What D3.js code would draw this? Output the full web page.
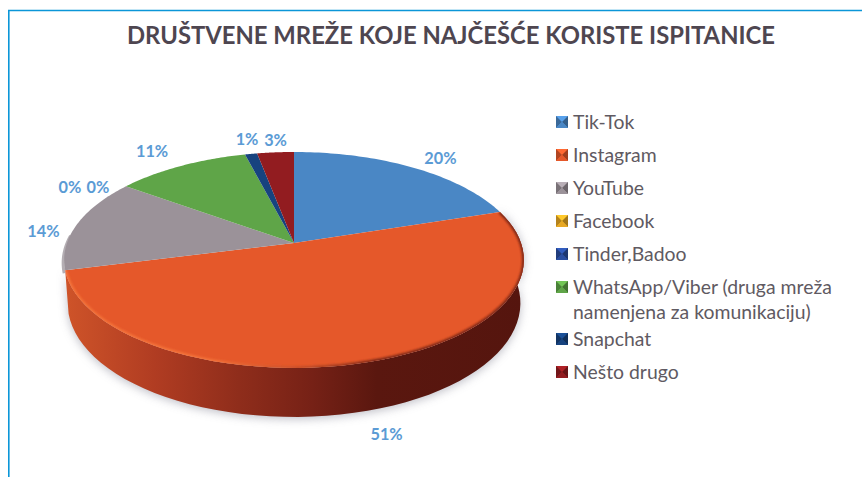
<!DOCTYPE html>
<html>
<head>
<meta charset="utf-8">
<script src="https://cdn.jsdelivr.net/npm/d3@7"></script>
<style>
html,body{margin:0;padding:0;background:#fff;}
svg{display:block;}
text{font-family:Lato,"Open Sans",sans-serif;}
</style>
</head>
<body>
<svg id="c" width="862" height="477"></svg>
<script>
const chartTitle = "DRUŠTVENE MREŽE KOJE NAJČEŠĆE KORISTE ISPITANICE";
const categories = ["Tik-Tok","Instagram","YouTube","Facebook","Tinder,Badoo","WhatsApp/Viber (druga mreža namenjena za komunikaciju)","Snapchat","Nešto drugo"];
const shares = [20,51,14,0,0,11,1,3];
const colors = ["#4a87c5","#e5582a","#9b9299","#e8a824","#2a4ea0","#5fa548","#17437f","#921c20"];

// layout only
const labelOffsets = [[28,-9],[18,72],[-34,8],[-56,1],[-28,1],[-29,-14],[-4,-14],[0,-12]];
const legendLines = [["Tik-Tok"],["Instagram"],["YouTube"],["Facebook"],["Tinder,Badoo"],["WhatsApp/Viber (druga mreža","namenjena za komunikaciju)"],["Snapchat"],["Nešto drugo"]];

const svg = d3.select("#c");
const defs = svg.append("defs");

// perspective projection of the unit pie disc
const cx = 294, apexY = 243, a = 227, b = 105.3, p = 0.157;
const proj = t => {
  const u = Math.sin(t), v = -Math.cos(t), k = 1 - p*v;
  return [cx + a*u/k, apexY + b*v/k];
};
const projBottom = t => {
  const u = Math.sin(t), v = -Math.cos(t), k = 1 - p*v;
  return [cx + 0.985*a*u/k, apexY + b*v/k + 42 + 7*v];
};
const sample = (t0,t1,f) => d3.range(0,61).map(i => f(t0 + (t1-t0)*i/60));
const line = d3.line();

const arcs = d3.pie().sort(null).value(d => d)(shares);
const orange = arcs[1], gray = arcs[2];

defs.append("filter").attr("id","blur6").attr("x","-20%").attr("y","-20%").attr("width","140%").attr("height","140%")
  .append("feGaussianBlur").attr("stdDeviation",5);
defs.append("filter").attr("id","blur1").attr("filterUnits","userSpaceOnUse").attr("x",0).attr("y",0).attr("width",862).attr("height",477)
  .append("feGaussianBlur").attr("stdDeviation",1.1);

const wallGrad = defs.append("linearGradient").attr("id","wall").attr("gradientUnits","userSpaceOnUse")
  .attr("x1",64).attr("x2",524).attr("y1",0).attr("y2",0);
[[0,"#cf5429"],[0.2,"#b03c22"],[0.38,"#8f2d1b"],[0.54,"#762116"],[0.68,"#5a170f"],[1,"#55150e"]]
  .forEach(s => wallGrad.append("stop").attr("offset",s[0]).attr("stop-color",s[1]));

const rimGrad = defs.append("linearGradient").attr("id","rim").attr("gradientUnits","userSpaceOnUse")
  .attr("x1",64).attr("x2",524).attr("y1",0).attr("y2",0);
[[0,"#f4733a"],[0.32,"#f4733a"],[0.5,"#c9502a"],[0.68,"#7a2616"],[1,"#7a2616"]]
  .forEach(s => rimGrad.append("stop").attr("offset",s[0]).attr("stop-color",s[1]));

// frame
svg.append("path").attr("d","M8.8,477V10.5H862").attr("fill","none").attr("stroke","#0b96d8").attr("stroke-width",1.6);

// title
svg.append("text").attr("x",451).attr("y",44).attr("text-anchor","middle")
  .attr("font-size",25.5).attr("font-weight",700).attr("fill","#4e4650")
  .attr("textLength",648).attr("lengthAdjust","spacingAndGlyphs").text(chartTitle);

// drop shadow
const wallTop = sample(orange.startAngle, orange.endAngle, proj);
const wallBot = sample(orange.startAngle, orange.endAngle, projBottom);
svg.append("path").attr("d", line(wallBot.map(d=>[d[0],d[1]+2]).concat(wallTop.slice().reverse())) + "Z")
  .attr("fill","#a9a9b4").attr("opacity",.75).attr("filter","url(#blur6)");

// side wall
svg.append("path").attr("d", line(wallTop.concat(wallBot.slice().reverse())) + "Z").attr("fill","url(#wall)");

// gray outer rim
svg.append("path").attr("d", line(sample(gray.startAngle, gray.startAngle+0.35, t => { const q=proj(t); return [q[0]-1,q[1]+3]; })))
  .attr("fill","none").attr("stroke","#b4aeb3").attr("stroke-width",3);

// top faces
svg.append("g").selectAll("path").data(arcs).join("path")
  .attr("d", d => d.endAngle > d.startAngle
      ? line([[cx,apexY]].concat(sample(d.startAngle,d.endAngle,proj))) + "Z" : null)
  .attr("fill", (d,i) => colors[i]);

// rim between top and wall
const clip = defs.append("clipPath").attr("id","topclip");
clip.append("path").attr("d", line([[cx,apexY]].concat(sample(orange.startAngle,orange.endAngle,proj))) + "Z");
svg.append("g").attr("clip-path","url(#topclip)").append("path")
  .attr("d", line(sample(orange.startAngle, orange.endAngle, proj)))
  .attr("fill","none").attr("stroke","url(#rim)").attr("stroke-width",3.5).attr("filter","url(#blur1)");

// data labels
svg.append("g").selectAll("text").data(arcs).join("text")
  .attr("x",(d,i)=>proj((d.startAngle+d.endAngle)/2)[0]+labelOffsets[i][0])
  .attr("y",(d,i)=>proj((d.startAngle+d.endAngle)/2)[1]+labelOffsets[i][1]+5.5)
  .attr("text-anchor","middle").attr("font-size",16.3).attr("font-weight",700).attr("fill","#5b9bd5")
  .text(d => d.value + "%");

// legend
let ly = 122;
const legend = svg.append("g");
categories.forEach((name,i) => {
  const g = legend.append("g").attr("transform",`translate(556,${ly})`);
  const s = 12, h = s/2, c = d3.color(colors[i]);
  g.append("rect").attr("x",0).attr("y",-h).attr("width",s).attr("height",s).attr("fill",c.brighter(0.5));
  g.append("path").attr("d",`M0,${-h}L${h},0L0,${h}Z`).attr("fill",c.darker(0.7));
  g.append("path").attr("d",`M${s},${-h}L${h},0L${s},${h}Z`).attr("fill",c.darker(1));
  g.append("path").attr("d",`M0,${h}L${h},0L${s},${h}Z`).attr("fill",c);
  const lines = legendLines[i];
  lines.forEach((t,j) => {
    g.append("text").attr("x",17).attr("y",6.5+j*25).attr("font-size",19.4).attr("fill","#5f5a62").text(t);
  });
  ly += lines.length > 1 ? 52 : 33;
});
</script>
</body>
</html>
